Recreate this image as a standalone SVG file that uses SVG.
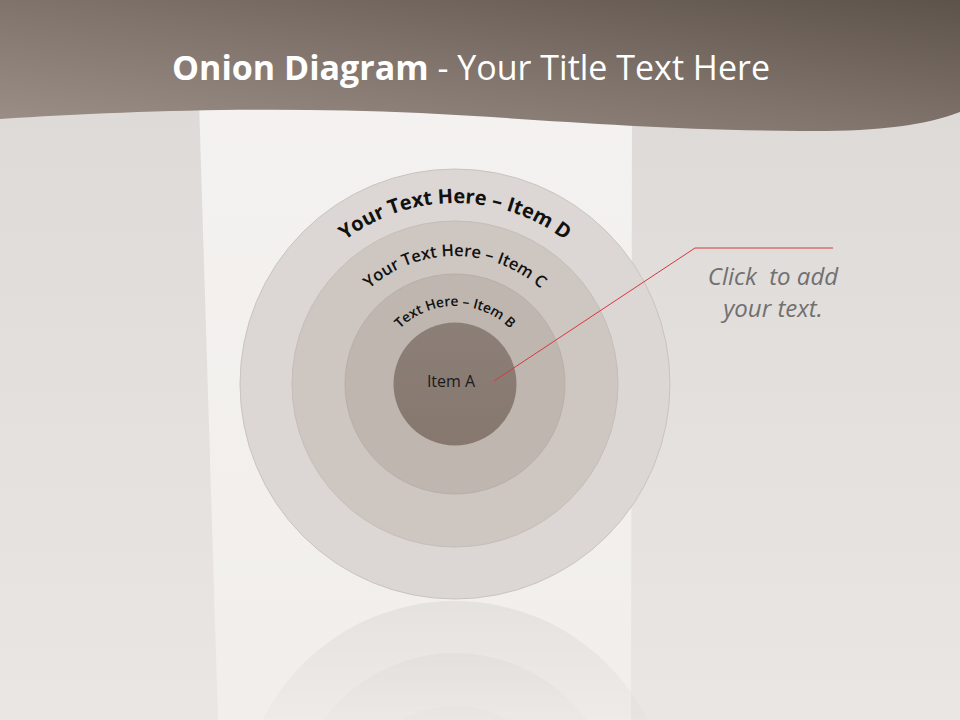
<svg xmlns="http://www.w3.org/2000/svg" width="960" height="720" viewBox="0 0 960 720">
  <defs>
    <linearGradient id="hdr" x1="0" y1="1" x2="1" y2="0">
      <stop offset="0" stop-color="#9d9088"/>
      <stop offset="0.5" stop-color="#7f736c"/>
      <stop offset="1" stop-color="#5e534b"/>
    </linearGradient>
    <linearGradient id="side" x1="0" y1="0" x2="0" y2="1">
      <stop offset="0" stop-color="#dcd8d6"/>
      <stop offset="1" stop-color="#e9e6e3"/>
    </linearGradient>
    <linearGradient id="mid" x1="0" y1="0" x2="0" y2="1">
      <stop offset="0" stop-color="#f4f2f0"/>
      <stop offset="1" stop-color="#f1eeeb"/>
    </linearGradient>
    <linearGradient id="coreg" x1="0" y1="0" x2="0" y2="1">
      <stop offset="0" stop-color="#8c7f77"/>
      <stop offset="1" stop-color="#86786f"/>
    </linearGradient>
    <linearGradient id="fadeg" gradientUnits="userSpaceOnUse" x1="0" y1="600" x2="0" y2="740">
      <stop offset="0" stop-color="#fff" stop-opacity="0.55"/>
      <stop offset="1" stop-color="#fff" stop-opacity="0.05"/>
    </linearGradient>
    <mask id="fade" maskUnits="userSpaceOnUse" x="0" y="600" width="960" height="120">
      <rect x="0" y="600" width="960" height="120" fill="url(#fadeg)"/>
    </mask>
    <path id="arcD" d="M274,384 A181,181 0 0 1 636,384"/>
    <path id="arcC" d="M327,384 A128,128 0 0 1 583,384"/>
    <path id="arcB" d="M377,384 A78,78 0 0 1 533,384"/>
    <style>
      .ring { stroke-width: 1; }
      .arc { font-family: "Open Sans", "Liberation Sans", sans-serif; fill: #111; text-anchor: middle; }
      .note { font-family: "Open Sans", "Liberation Sans", sans-serif; font-style: italic; font-size: 24px; fill: #707070; text-anchor: middle; }
      .lead { fill: none; stroke: #d8383c; stroke-width: 1; }
    </style>
  </defs>

  <!-- background -->
  <rect x="0" y="0" width="960" height="720" fill="url(#side)"/>
  <polygon points="199,100 632,100 631,720 218,720" fill="url(#mid)"/>

  <!-- reflection -->
  <g mask="url(#fade)">
    <circle cx="455" cy="816" r="215" fill="#dcd7d4"/>
    <circle cx="455" cy="816" r="163" fill="#cdc6c1"/>
    <circle cx="455" cy="816" r="110" fill="#bfb6b0"/>
  </g>

  <!-- header -->
  <path d="M0,0 H960 V112 C925,126 870,132 800,131 C650,130 540,119 420,113 C270,106 120,111 0,119 Z" fill="url(#hdr)"/>
  <text x="471" y="80" text-anchor="middle" font-family="'Open Sans', 'Liberation Sans', sans-serif" font-size="34" fill="#ffffff"><tspan font-weight="bold">Onion Diagram</tspan> - Your Title Text Here</text>

  <!-- nodes -->
  <g id="item-d">
    <circle class="ring" cx="455" cy="384" r="215" fill="#dcd7d4" stroke="#cac4c0"/>
    <text class="arc" font-size="20" font-weight="bold"><textPath href="#arcD" startOffset="50%">Your Text Here – Item D</textPath></text>
  </g>
  <g id="item-c">
    <circle class="ring" cx="455" cy="384" r="163" fill="#cdc6c1" stroke="#c4bdb8"/>
    <text class="arc" font-size="16.5" font-weight="600"><textPath href="#arcC" startOffset="50%">Your Text Here – Item C</textPath></text>
  </g>
  <g id="item-b">
    <circle class="ring" cx="455" cy="384" r="110" fill="#bfb6b0" stroke="#b8afa9"/>
    <text class="arc" font-size="13.8" font-weight="600"><textPath href="#arcB" startOffset="50%">Text Here – Item B</textPath></text>
  </g>
  <g id="item-a">
    <circle cx="455" cy="384" r="61.5" fill="url(#coreg)"/>
    <text x="451" y="387" text-anchor="middle" font-family="'Open Sans', 'Liberation Sans', sans-serif" font-size="16" fill="#1a1a1a">Item A</text>
  </g>

  <!-- callout note -->
  <g id="note">
    <text class="note" x="773" y="285" xml:space="preserve">Click  to add</text>
    <text class="note" x="773" y="317">your text.</text>
  </g>

  <!-- connectors -->
  <g id="connectors">
    <polyline class="lead" points="494,381 695,248 833,248"/>
  </g>
</svg>
